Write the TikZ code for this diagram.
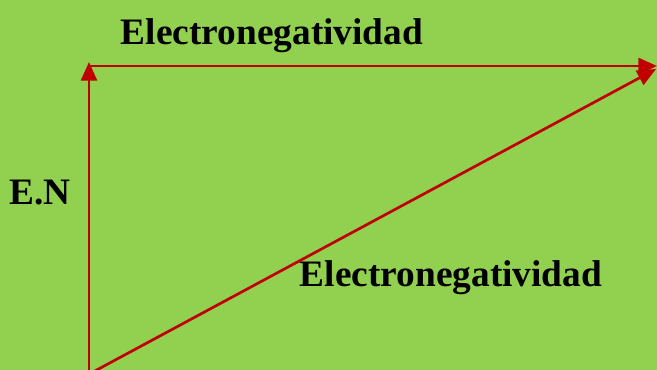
\documentclass[tikz,border=0pt]{standalone}
\usepackage{fontspec}
\setmainfont{Liberation Serif}
\usetikzlibrary{arrows.meta}
\definecolor{leafgreen}{HTML}{92D050}
\definecolor{darkred}{HTML}{C00000}

\tikzset{
  axis/.style={draw=darkred, line width=2pt, -{Triangle[length=14pt,width=12pt]}},
  lbl/.style={font=\fontsize{28}{32}\selectfont\bfseries, inner sep=0pt}
}

\begin{document}
\begin{tikzpicture}[x=0.75pt,y=0.75pt]
  \fill[leafgreen] (0,0) rectangle (657,370);
  \useasboundingbox (0,0) rectangle (657,370);

  \coordinate (origin) at (89,-2);
  \coordinate (corner) at (89,304);
  \coordinate (top)    at (89,308);
  \coordinate (right)  at (657,304);
  \coordinate (start)  at (93,-2);
  \coordinate (far)    at (656,301);

  \node[lbl] (ENtop)  at (272,334) {Electronegatividad};
  \node[lbl] (EN)     at (40,177)  {E.N};
  \node[lbl] (ENdiag) at (451,92)  {Electronegatividad};

  \draw[axis] (origin) -- (top);
  \draw[axis] (corner) -- (right);
  \draw[axis] (start) -- (far);
\end{tikzpicture}
\end{document}
